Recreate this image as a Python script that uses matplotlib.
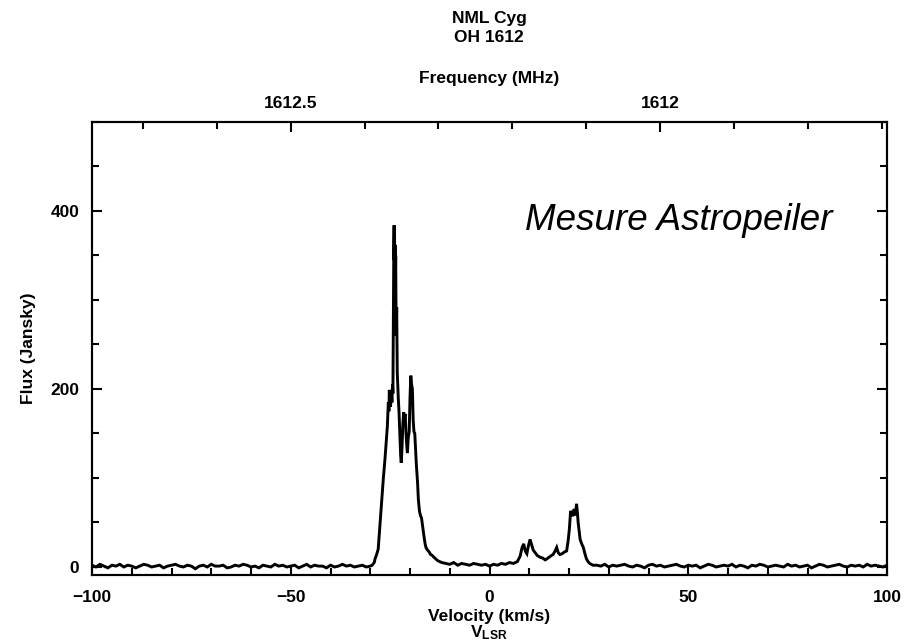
import numpy as np
import matplotlib

matplotlib.use('Agg')
import matplotlib.pyplot as plt
from matplotlib.ticker import MultipleLocator, FixedLocator

plt.rcParams['font.family'] = ['Liberation Sans', 'DejaVu Sans']
plt.rcParams['font.weight'] = 'bold'
plt.rcParams['mathtext.default'] = 'regular'

W, H = 907, 644
FS = 12.5
LW_AXIS = 1.5

C_KMS = 299792.458
F_REST = 1612.231  # OH 1612 MHz line, used for the top frequency axis

FREQ_MAJOR = [1612.5, 1612.0]
FREQ_MAJOR_LABELS = ['1612.5', '1612']
FREQ_MINOR = [1612.7, 1612.6, 1612.4, 1612.3, 1612.2, 1612.1, 1611.9, 1611.8, 1611.7]

# baseline channels (Jy), 1 km/s apart
base_left_v = np.arange(-100, -30)
base_left_f = [2, 0, 3, 1, -1, 2, 1, 3, 0, 2,
               1, -1, 1, 3, 2, 0, 1, 2, -1, 1,
               2, 3, 1, 0, 2, 1, -2, 1, 2, 0,
               3, 1, 1, 2, -1, 0, 2, 1, 3, 2,
               0, 1, -1, 2, 1, 0, 3, 1, 2, 0,
               1, 2, -1, 1, 3, 0, 2, 1, 1, -1,
               2, 0, 1, 3, 1, 2, 0, 1, 2, 0]

# main (blue-shifted) emission complex
main_v = [-30.0, -29.5, -29.0, -28.8, -28.4, -28.0, -27.6, -27.1, -26.7, -26.3,
          -26.0, -25.7, -25.45, -25.3, -25.2, -25.05, -24.9, -24.7, -24.55, -24.4,
          -24.3, -24.15, -24.07, -24.0, -23.95, -23.9, -23.82, -23.75, -23.68, -23.6,
          -23.52, -23.45, -23.35, -23.2, -22.95, -22.77, -22.55, -22.35,
          -22.2, -22.0, -21.8, -21.6, -21.4, -21.2, -21.0, -20.8, -20.65, -20.45,
          -20.2, -20.0, -19.8, -19.6, -19.4, -19.2, -19.0, -18.8, -18.6, -18.4,
          -18.1, -17.9, -17.6, -17.3, -17.1, -16.8, -16.5, -16.2, -16.0, -15.6,
          -15.2, -14.8, -14.4, -14.0, -13.5, -13.0, -12.5, -12.0]
main_f = [1, 2, 5, 9, 14, 20, 45, 76, 100, 121,
          140, 158, 185, 175, 199, 182, 180, 196, 185, 205,
          195, 300, 360, 384, 345, 380, 330, 362, 318, 350,
          290, 260, 292, 218, 190, 175, 150, 125,
          117, 135, 160, 174, 168, 172, 150, 135, 128, 145,
          152, 190, 215, 205, 200, 165, 152, 150, 132, 115,
          95, 76, 62, 57, 55, 45, 35, 26, 22, 19,
          17, 14, 13, 11, 9, 7, 6, 5]

base_mid_v = np.arange(-11, 7)
base_mid_f = [4, 3, 5, 2, 4, 3, 2, 4, 3, 2, 3, 1, 3, 2, 4, 3, 5, 4]

# red-shifted emission complex
red_v = [7.0, 7.7, 8.2, 8.6, 9.0, 9.4, 9.8, 10.2, 10.6, 11.0,
         11.5, 12.0, 12.7, 13.4, 14.0, 14.4, 15.0, 15.6, 16.0, 16.5,
         16.9, 17.3, 17.7, 18.3, 18.9, 19.4, 19.8, 20.1, 20.4, 20.7,
         20.9, 21.1, 21.3, 21.6, 21.9, 22.1, 22.3, 22.6, 22.8, 23.2,
         23.6, 24.0, 24.4, 24.8, 25.2, 26.0]
red_f = [6, 12, 22, 26, 18, 15, 24, 31, 25, 19,
         16, 13, 11, 10, 8, 9, 11, 13, 14, 18,
         22, 16, 14, 15, 17, 18, 30, 43, 63, 60,
         57, 62, 65, 58, 71, 62, 50, 38, 31, 26,
         22, 15, 9, 6, 4, 2]

base_right_v = np.arange(27, 101)
base_right_f = [2, 1, 3, 0, 2, 1, 2, 3, 1, 0,
                2, 1, -1, 2, 3, 1, 2, 0, 1, 2,
                3, 1, 0, 2, 1, 2, -1, 1, 3, 2,
                0, 1, 2, 1, 3, 0, 2, 1, -1, 2,
                1, 3, 2, 0, 1, 2, 1, 0, 3, 1,
                2, 0, 1, 2, -1, 1, 3, 2, 0, 1,
                2, 3, 1, 0, 2, 1, 2, 0, 3, 1,
                2, 1, 0, 2]


def freq_to_vel(f):
    return C_KMS * (1 - f / F_REST)


def fig_xy(px, py):
    return px / W, 1 - py / H


velocity = np.concatenate([base_left_v, main_v, base_mid_v, red_v, base_right_v])
flux = np.concatenate([base_left_f, main_f, base_mid_f, red_f, base_right_f])

fig = plt.figure(figsize=(W / 100, H / 100), dpi=100)
ax = fig.add_axes([92 / W, 1 - 575 / H, 795 / W, 453 / H])

ax.plot(velocity, flux, color='black', lw=2.1, solid_joinstyle='miter')

ax.set_xlim(-100, 100)
ax.set_ylim(-9, 500)
ax.xaxis.set_major_locator(MultipleLocator(50))
ax.xaxis.set_minor_locator(MultipleLocator(10))
ax.yaxis.set_major_locator(FixedLocator([0, 200, 400]))
ax.yaxis.set_minor_locator(MultipleLocator(50))
ax.tick_params(which='both', direction='in', top=False, right=True, width=LW_AXIS,
               labelsize=FS, color='black')
ax.tick_params(which='major', length=7)
ax.tick_params(which='minor', length=5)
ax.tick_params(axis='x', pad=11)
ax.tick_params(axis='y', pad=9)
for sp in ax.spines.values():
    sp.set_linewidth(LW_AXIS)

# frequency scale on the top
top = ax.twiny()
top.set_xlim(ax.get_xlim())
top.set_xticks([freq_to_vel(f) for f in FREQ_MAJOR])
top.set_xticklabels(FREQ_MAJOR_LABELS)
top.set_xticks([freq_to_vel(f) for f in FREQ_MINOR], minor=True)
top.tick_params(which='both', direction='in', width=LW_AXIS, labelsize=FS, pad=8)
top.tick_params(which='major', length=7)
top.tick_params(which='minor', length=5)
for sp in top.spines.values():
    sp.set_linewidth(LW_AXIS)

fig.text(*fig_xy(489, 18), 'NML Cyg', ha='center', va='center', fontsize=FS)
fig.text(*fig_xy(489, 38), 'OH 1612', ha='center', va='center', fontsize=FS)
fig.text(*fig_xy(489, 78), 'Frequency (MHz)', ha='center', va='center', fontsize=FS)
fig.text(*fig_xy(489, 616), 'Velocity (km/s)', ha='center', va='center', fontsize=FS)
fig.text(*fig_xy(489, 633), r'$V_{LSR}$', ha='center', va='center', fontsize=FS)
fig.text(*fig_xy(28, 348), 'Flux (Jansky)', ha='center', va='center', rotation=90, fontsize=FS)

fig.text(*fig_xy(525, 230), 'Mesure Astropeiler', ha='left', va='baseline',
         fontsize=26.5, style='italic', fontweight='normal')

fig.savefig('out.png', dpi=100)
